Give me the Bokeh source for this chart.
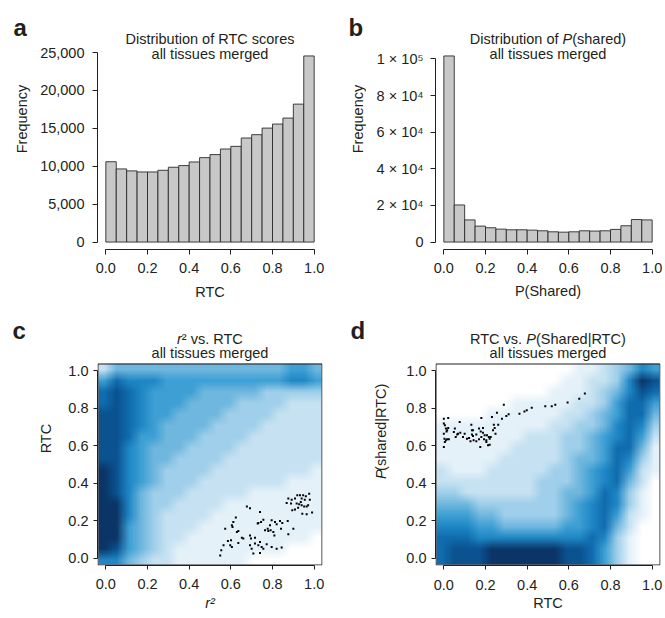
import math
import zlib
import struct
import base64
from bokeh.plotting import figure
from bokeh.layouts import row, column
from bokeh.models import FixedTicker, NumeralTickFormatter, Range1d
from bokeh.core.properties import value
from bokeh.embed import file_html
from bokeh.resources import INLINE

# ---------------- data ----------------
bin_edges = [0.00, 0.05, 0.10, 0.15, 0.20, 0.25, 0.30, 0.35, 0.40, 0.45, 0.50,
             0.55, 0.60, 0.65, 0.70, 0.75, 0.80, 0.85, 0.90, 0.95, 1.00]
rtc_counts = [10600, 9650, 9390, 9250, 9250, 9470, 9870, 10090, 10570, 11140,
              11540, 12280, 12630, 13730, 14170, 15040, 15570, 16360, 18200, 24560]
pshared_counts = [101600, 20250, 12100, 8700, 7800, 7050, 6700, 6700, 6500, 6150,
                  5600, 5400, 5600, 6150, 6000, 6150, 6900, 8900, 12300, 12100]

unit_ticks = [0.0, 0.2, 0.4, 0.6, 0.8, 1.0]
rtc_freq_ticks = [0, 5000, 10000, 15000, 20000, 25000]
pshared_freq_ticks = [0, 20000, 40000, 60000, 80000, 100000]
pshared_freq_labels = ["0", "2 \u00d7 10\u2074", "4 \u00d7 10\u2074", "6 \u00d7 10\u2074",
                       "8 \u00d7 10\u2074", "1 \u00d7 10\u2075"]

# density level grid (0 = none ... 9 = highest), cell centres equal on both axes;
# rows listed from top (high y) to bottom
grid_centers = [-0.01, 0.05, 0.11, 0.17, 0.23, 0.29, 0.35, 0.41, 0.47,
                0.53, 0.59, 0.65, 0.71, 0.77, 0.83, 0.89, 0.95, 1.01]
density_r2_rtc = [
    [2, 4, 4, 4, 4, 4, 4, 4, 4, 4, 4, 4, 4, 4, 4, 5, 5, 4],
    [5, 7, 6, 6, 6, 5, 5, 5, 5, 5, 5, 5, 5, 5, 5, 6, 6, 5],
    [7, 8, 7, 6, 5, 5, 5, 5, 4, 4, 4, 4, 4, 3, 3, 3, 3, 3],
    [7, 8, 7, 6, 5, 5, 5, 4, 4, 4, 4, 3, 3, 3, 3, 2, 2, 2],
    [8, 8, 7, 6, 5, 5, 4, 4, 4, 4, 3, 3, 3, 3, 2, 2, 2, 2],
    [8, 8, 7, 6, 5, 4, 4, 4, 4, 3, 3, 3, 3, 2, 2, 2, 2, 2],
    [8, 8, 7, 5, 5, 4, 4, 4, 3, 3, 3, 3, 2, 2, 2, 2, 2, 2],
    [8, 8, 6, 5, 4, 4, 4, 3, 3, 3, 3, 2, 2, 2, 2, 2, 2, 2],
    [8, 8, 6, 5, 4, 4, 3, 3, 3, 3, 2, 2, 2, 2, 2, 2, 2, 2],
    [9, 8, 6, 5, 4, 3, 3, 3, 3, 2, 2, 2, 2, 2, 2, 2, 2, 1],
    [9, 8, 6, 5, 4, 3, 3, 3, 2, 2, 2, 2, 2, 2, 2, 1, 1, 1],
    [9, 8, 6, 4, 3, 3, 3, 2, 2, 2, 2, 2, 1, 1, 1, 1, 1, 1],
    [9, 9, 6, 4, 3, 3, 2, 2, 2, 2, 1, 1, 1, 1, 1, 1, 1, 1],
    [9, 9, 6, 4, 3, 2, 2, 2, 2, 1, 1, 1, 1, 1, 1, 1, 1, 1],
    [9, 9, 5, 4, 3, 2, 2, 2, 1, 1, 1, 1, 1, 1, 1, 1, 1, 1],
    [9, 9, 5, 4, 3, 2, 2, 1, 1, 1, 1, 1, 1, 1, 1, 1, 1, 0],
    [9, 8, 5, 4, 3, 2, 1, 1, 1, 1, 1, 1, 1, 1, 1, 0, 0, 0],
    [6, 6, 4, 3, 2, 2, 1, 1, 1, 1, 1, 1, 0, 0, 0, 0, 0, 0],
]
density_rtc_pshared = [
    [0, 0, 0, 0, 0, 0, 0, 0, 0, 0, 0, 1, 1, 2, 3, 4, 6, 5],
    [0, 0, 0, 0, 0, 0, 0, 0, 0, 0, 1, 1, 2, 2, 3, 6, 9, 8],
    [0, 0, 0, 0, 0, 0, 0, 0, 0, 1, 1, 1, 2, 3, 4, 6, 8, 7],
    [0, 0, 0, 0, 0, 0, 1, 1, 1, 1, 1, 2, 2, 3, 5, 7, 7, 5],
    [0, 0, 0, 0, 1, 1, 1, 1, 1, 1, 2, 2, 3, 4, 5, 7, 7, 4],
    [1, 1, 1, 1, 1, 1, 1, 1, 1, 2, 2, 3, 3, 4, 6, 7, 6, 3],
    [1, 1, 1, 1, 1, 1, 1, 2, 2, 2, 3, 3, 4, 5, 6, 7, 5, 2],
    [1, 1, 1, 1, 1, 1, 2, 2, 2, 2, 3, 3, 4, 5, 7, 7, 4, 1],
    [1, 1, 1, 1, 1, 2, 2, 2, 2, 2, 3, 4, 4, 5, 7, 6, 3, 1],
    [2, 1, 1, 1, 2, 2, 2, 2, 2, 3, 3, 4, 5, 6, 7, 5, 2, 1],
    [2, 2, 2, 2, 2, 2, 2, 2, 3, 3, 3, 4, 5, 6, 7, 4, 2, 0],
    [3, 3, 2, 2, 2, 2, 2, 2, 3, 3, 4, 4, 5, 7, 6, 3, 1, 0],
    [4, 4, 4, 3, 3, 3, 3, 3, 3, 3, 4, 5, 6, 7, 6, 3, 1, 0],
    [5, 5, 5, 4, 4, 3, 3, 3, 3, 3, 4, 5, 6, 7, 5, 2, 1, 0],
    [6, 6, 6, 5, 5, 4, 4, 4, 4, 4, 5, 5, 6, 7, 4, 2, 0, 0],
    [7, 7, 7, 6, 6, 6, 6, 6, 6, 6, 6, 6, 7, 6, 3, 1, 0, 0],
    [7, 8, 8, 8, 9, 9, 9, 9, 9, 9, 8, 8, 7, 5, 3, 1, 0, 0],
    [7, 8, 8, 8, 9, 9, 9, 9, 9, 9, 8, 8, 7, 5, 3, 1, 0, 0],
]

# outlying points (panel c: r2 vs RTC)
c_pts_x = [0.919, 0.932, 0.947, 0.960, 0.976, 0.908, 0.940, 0.955, 0.979, 0.868, 0.889, 0.916,
           0.928, 0.940, 0.952, 0.964, 0.971, 0.936, 0.895, 0.908, 0.943, 0.964, 0.990, 0.876,
           0.892, 0.923,
           0.677, 0.692, 0.740, 0.624, 0.612, 0.605, 0.608, 0.573, 0.732, 0.745, 0.756, 0.729,
           0.796, 0.812, 0.836, 0.847, 0.820, 0.788, 0.873, 0.900, 0.764, 0.780, 0.791, 0.804,
           0.809, 0.629, 0.636, 0.653, 0.660, 0.692, 0.697, 0.716, 0.740, 0.876, 0.841, 0.777,
           0.601, 0.586, 0.565, 0.597, 0.605, 0.554, 0.549, 0.636, 0.692, 0.716, 0.732, 0.748,
           0.756, 0.700, 0.820, 0.844, 0.708, 0.740, 0.796, 0.772]
c_pts_y = [0.335, 0.335, 0.335, 0.330, 0.344, 0.318, 0.318, 0.312, 0.312, 0.294, 0.291, 0.291,
           0.287, 0.282, 0.276, 0.276, 0.282, 0.299, 0.255, 0.259, 0.237, 0.234, 0.244, 0.318,
           0.312, 0.269,
           0.276, 0.266, 0.246, 0.216, 0.193, 0.175, 0.166, 0.157, 0.187, 0.193, 0.205, 0.184,
           0.202, 0.193, 0.198, 0.187, 0.180, 0.175, 0.198, 0.157, 0.148, 0.144, 0.148, 0.139,
           0.121, 0.139, 0.144, 0.109, 0.104, 0.121, 0.104, 0.109, 0.086, 0.127, 0.157, 0.157,
           0.095, 0.091, 0.068, 0.068, 0.059, 0.041, 0.014, 0.080, 0.068, 0.077, 0.068, 0.059,
           0.050, 0.050, 0.050, 0.056, 0.024, 0.027, 0.059, 0.073]

# outlying points (panel d: RTC vs P(shared|RTC))
d_pts_x = [0.677, 0.650, 0.594, 0.535, 0.518, 0.487, 0.422, 0.398, 0.387, 0.363, 0.311, 0.300,
           0.288, 0.255, 0.279, 0.231, 0.180, 0.261, 0.240, 0.244, 0.248, 0.236, 0.188, 0.177,
           0.169, 0.188, 0.180, 0.193, 0.204, 0.212, 0.220, 0.216, 0.220, 0.225, 0.207, 0.196,
           0.169, 0.175, 0.156, 0.135, 0.135, 0.132, 0.140, 0.121, 0.111, 0.128, 0.143, 0.100,
           0.092, 0.076, 0.068, 0.053, 0.048, 0.057, 0.064, 0.021, 0.000, 0.000, 0.005, 0.010,
           0.021, 0.013, 0.000, 0.016, 0.003, 0.010, 0.016, 0.005, 0.000, 0.024, 0.079, 0.140,
           0.156, 0.204]
d_pts_y = [0.879, 0.852, 0.831, 0.820, 0.811, 0.811, 0.804, 0.790, 0.784, 0.772, 0.768, 0.759,
           0.820, 0.777, 0.745, 0.754, 0.749, 0.713, 0.713, 0.695, 0.665, 0.683, 0.695, 0.677,
           0.692, 0.670, 0.647, 0.635, 0.620, 0.603, 0.606, 0.647, 0.638, 0.647, 0.656, 0.656,
           0.635, 0.594, 0.624, 0.683, 0.660, 0.713, 0.652, 0.642, 0.638, 0.624, 0.629, 0.665,
           0.647, 0.727, 0.665, 0.692, 0.674, 0.647, 0.660, 0.749, 0.745, 0.719, 0.710, 0.692,
           0.695, 0.677, 0.665, 0.683, 0.638, 0.629, 0.635, 0.620, 0.594, 0.635, 0.670, 0.683,
           0.660, 0.629]

# ---------------- style ----------------
FONT = "Liberation Sans"
FS = "14.5px"
TXT = "#231f20"
BAR_FILL = "#c8c8c8"
level_colors = ["#ffffff", "#e4f1f9", "#c6e2f2", "#9fcfea", "#6fb7de",
                "#3d9fd3", "#1f87c5", "#106cae", "#0a5290", "#0b3566"]


def _rgb(h):
    return [int(h[i:i + 2], 16) for i in (1, 3, 5)]


def grid_png_url(grid):
    """Level grid (rows top->bottom) as a tiny PNG, one pixel per cell; the browser
    scales it smoothly when the glyph is drawn."""
    h, w = len(grid), len(grid[0])
    raw = b"".join(b"\x00" + bytes(c for v in r for c in _rgb(level_colors[v])) for r in grid)

    def chunk(t, d):
        return (struct.pack(">I", len(d)) + t + d +
                struct.pack(">I", zlib.crc32(t + d) & 0xffffffff))
    png = (b"\x89PNG\r\n\x1a\n" +
           chunk(b"IHDR", struct.pack(">IIBBBBB", w, h, 8, 2, 0, 0, 0)) +
           chunk(b"IDAT", zlib.compress(raw)) + chunk(b"IEND", b""))
    return "data:image/png;base64," + base64.b64encode(png).decode()


# Arial advance widths (per 1000 em), used to butt italic and upright pieces together
AW = {' ': 278, '(': 333, ')': 333, '.': 278, '|': 260, '\u00b2': 333, 'C': 722, 'D': 722,
      'P': 667, 'R': 722, 'S': 667, 'T': 611, 'a': 556, 'b': 556, 'c': 500, 'd': 556,
      'e': 556, 'f': 278, 'h': 556, 'i': 222, 'n': 556, 'o': 556, 'r': 333, 's': 500,
      't': 278, 'u': 556, 'v': 500}


def tw(s, size=14.5):
    return sum(AW.get(ch, 556) for ch in s) * size / 1000.0


def _base(w, h, **kw):
    p = figure(width=w, height=h, output_backend="svg", toolbar_location=None, tools="", **kw)
    p.background_fill_color = "white"
    p.border_fill_color = "white"
    return p


def strip(x0, y0, w, h):
    """Blank figure (frame = whole canvas) at the left of a panel; page-pixel positions."""
    s = _base(w, h, x_range=Range1d(0, w), y_range=Range1d(0, h), min_border=0,
              x_axis_location=None, y_axis_location=None)
    s.grid.visible = False
    s.outline_line_color = None
    return s, (lambda px, py: (px - x0, (y0 + h) - py))


def put(fig, conv, px, py, text, size=FS, style="normal", align="left",
        baseline="alphabetic", angle=0.0):
    x, y = conv(px, py)
    fig.text(x=[x], y=[y], text=[text], text_font=value(FONT), text_font_size=value(size),
             text_font_style=value(style), text_align=value(align),
             text_baseline=value(baseline), angle=angle, text_color=TXT)


def put_mixed(fig, conv, cx, py, segs):
    x = cx - sum(tw(s) for s, _ in segs) / 2
    for s, st in segs:
        put(fig, conv, x, py, s, style=st)
        x += tw(s)


def put_mixed_vertical(fig, conv, cx, cy, segs):
    py = cy + sum(tw(s) for s, _ in segs) / 2
    for s, st in segs:
        put(fig, conv, cx, py, s, style=st, baseline="middle", angle=math.pi / 2)
        py -= tw(s)


FRAME_W = 225


def main_fig(w, h, left, bottom, y_lo, y_hi, ytick_out, ystand, xtick_out, xstand,
             xlabel, xlabel_style, xlabel_standoff):
    p = _base(w, h, x_range=Range1d(-0.04, 1.04), y_range=Range1d(y_lo, y_hi),
              min_border_left=left, min_border_right=w - left - FRAME_W,
              min_border_top=0, min_border_bottom=bottom)
    p.grid.visible = False
    p.outline_line_color = None
    for ax in (p.xaxis[0], p.yaxis[0]):
        ax.axis_line_color = TXT
        ax.axis_line_width = 1
        ax.major_tick_line_color = TXT
        ax.major_tick_in = 0
        ax.minor_tick_line_color = None
        ax.major_label_text_font = FONT
        ax.major_label_text_font_size = FS
        ax.major_label_text_color = TXT
    xa = p.xaxis[0]
    xa.ticker = FixedTicker(ticks=unit_ticks)
    xa.formatter = NumeralTickFormatter(format="0.0")
    xa.bounds = (unit_ticks[0], unit_ticks[-1])
    xa.major_tick_out = xtick_out
    xa.major_label_standoff = xstand
    xa.axis_label = xlabel
    xa.axis_label_text_font = FONT
    xa.axis_label_text_font_size = FS
    xa.axis_label_text_font_style = xlabel_style
    xa.axis_label_text_color = TXT
    xa.axis_label_standoff = xlabel_standoff
    ya = p.yaxis[0]
    ya.major_tick_out = ytick_out
    ya.major_label_standoff = ystand
    ya.major_label_orientation = "horizontal"
    return p


def frame_conv(frame_left, frame_bottom, y_lo, y_per_px):
    return lambda px, py: (-0.04 + (px - frame_left) * 1.08 / FRAME_W,
                           y_lo + (frame_bottom - py) * y_per_px)


# ================= panel a (page x 0..338, y 0..312) =================
la, la_c = strip(0, 0, 32, 312)
put(la, la_c, 13, 34, "a", size="24px", style="bold")
put(la, la_c, 21, 148.5, "Frequency", align="center", baseline="middle", angle=math.pi / 2)

ma = max(rtc_counts)
sa = 1.08 * ma / 201.0
ya_lo = -0.04 * ma
pa = main_fig(306, 312, 65, 63, ya_lo, ya_lo + 249 * sa, 5, 8, 5, 8, "RTC", "normal", 8)
pa.quad(left=bin_edges[:-1], right=bin_edges[1:], bottom=0, top=rtc_counts,
        fill_color=BAR_FILL, line_color="#2a2a2a", line_width=0.9)
pa.yaxis[0].ticker = FixedTicker(ticks=rtc_freq_ticks)
pa.yaxis[0].formatter = NumeralTickFormatter(format="0,0")
pa.yaxis[0].bounds = (rtc_freq_ticks[0], rtc_freq_ticks[-1])
pa_c = frame_conv(97, 249, ya_lo, sa)
put(pa, pa_c, 209.5, 38, "Distribution of RTC scores", align="center")
put(pa, pa_c, 209.5, 53, "all tissues merged", align="center")

# ================= panel b (page x 338..664, y 0..312) =================
lb, lb_c = strip(338, 0, 28, 312)
put(lb, lb_c, 348, 34, "b", size="24px", style="bold")
put(lb, lb_c, 357, 148.5, "Frequency", align="center", baseline="middle", angle=math.pi / 2)

mb = max(pshared_counts)
sb = 1.08 * mb / 201.0
yb_lo = -0.04 * mb
pb = main_fig(298, 312, 69, 63, yb_lo, yb_lo + 249 * sb, 5, 7, 5, 8, "P(Shared)", "normal", 7)
pb.quad(left=bin_edges[:-1], right=bin_edges[1:], bottom=0, top=pshared_counts,
        fill_color=BAR_FILL, line_color="#2a2a2a", line_width=0.9)
pb.yaxis[0].ticker = FixedTicker(ticks=pshared_freq_ticks)
pb.yaxis[0].major_label_overrides = {t: l for t, l in zip(pshared_freq_ticks, pshared_freq_labels)}
pb.yaxis[0].bounds = (pshared_freq_ticks[0], pshared_freq_ticks[-1])
pb_c = frame_conv(435, 249, yb_lo, sb)
put_mixed(pb, pb_c, 547.5, 38, [("Distribution of ", "normal"), ("P", "italic"), ("(shared)", "normal")])
put(pb, pb_c, 547.5, 53, "all tissues merged", align="center")

# ---------------- density panels (frame spans the title area too) ----------------
step = grid_centers[1] - grid_centers[0]
g0 = grid_centers[0] - step / 2
gw = step * len(grid_centers)
ypp = 1.08 / 202.0                      # data units per pixel, 202 px plot box
y_top_cd = -0.04 + (565 - 312) * ypp    # frame reaches the top of the row
hx, hy = 0.5 * 1.08 / FRAME_W, 0.5 * ypp


def density_panel(w, url, px, py, xlabel, xstyle, xstand, xlstand):
    p = main_fig(w, 305, 39, 52, -0.04, y_top_cd, 4, 5, 4, xstand, xlabel, xstyle, xlstand)
    p.image_url(url=[url], x=g0, y=g0 + gw, w=gw, h=gw, anchor="top_left")
    p.scatter(x=px, y=py, marker="square", size=2, fill_color="black", line_color=None)
    # plot box
    p.quad(left=[-0.04 + hx], right=[1.04 - hx], bottom=[-0.04 + hy], top=[1.04 - hy],
           fill_color=None, line_color=TXT, line_width=1)
    p.yaxis[0].ticker = FixedTicker(ticks=unit_ticks)
    p.yaxis[0].formatter = NumeralTickFormatter(format="0.0")
    p.yaxis[0].bounds = (unit_ticks[0], unit_ticks[-1])
    return p


# ================= panel c (page x 0..338, y 312..617) =================
lc, lc_c = strip(0, 312, 58, 305)
put(lc, lc_c, 12, 334, "c", size="24px", style="bold")
put(lc, lc_c, 45, 464, "RTC", align="center", baseline="middle", angle=math.pi / 2)

pc = density_panel(280, grid_png_url(density_r2_rtc), c_pts_x, c_pts_y, "r\u00b2", "italic", 9, 3)
pc_c = frame_conv(97, 565, -0.04, ypp)
put_mixed(pc, pc_c, 209.5, 338, [("r", "italic"), ("\u00b2 vs. RTC", "normal")])
put(pc, pc_c, 209.5, 352, "all tissues merged", align="center")

# ================= panel d (page x 338..664, y 312..617) =================
ld, ld_c = strip(338, 312, 58, 305)
put(ld, ld_c, 350, 334, "d", size="24px", style="bold")
put_mixed_vertical(ld, ld_c, 380, 464, [("P", "italic"), ("(shared|RTC)", "normal")])

pd = density_panel(268, grid_png_url(density_rtc_pshared), d_pts_x, d_pts_y, "RTC", "normal", 10, 2)
pd_c = frame_conv(435, 565, -0.04, ypp)
put_mixed(pd, pd_c, 547.5, 338, [("RTC vs. ", "normal"), ("P", "italic"), ("(Shared|RTC)", "normal")])
put(pd, pd_c, 547.5, 352, "all tissues merged", align="center")

layout = column(row(row(la, pa), row(lb, pb)), row(row(lc, pc), row(ld, pd)))
open("out.html", "w").write(file_html(layout, INLINE))
